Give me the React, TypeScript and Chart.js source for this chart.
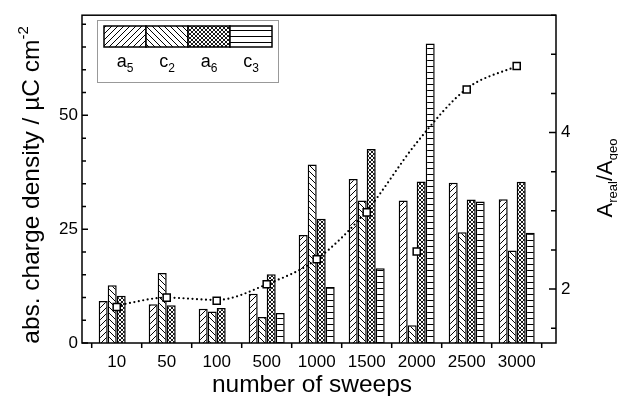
import React, { useEffect, useRef } from "react";
import { Chart, registerables } from "chart.js";

Chart.register(...registerables);

// ---------- data ----------
const categories = ["10", "50", "100", "500", "1000", "1500", "2000", "2500", "3000"];
const a5 = [9.2, 8.5, 7.5, 10.8, 23.7, 36.0, 31.3, 35.2, 31.6];
const c2 = [12.7, 15.4, 6.9, 5.7, 39.2, 31.3, 3.9, 24.3, 20.3];
const a6 = [10.4, 8.3, 7.7, 15.1, 27.3, 42.6, 35.5, 31.5, 35.4];
const c3 = [null, null, null, 6.6, 12.3, 16.4, 65.8, 31.1, 24.2];
const ratio = [1.77, 1.89, 1.85, 2.06, 2.38, 2.98, 2.48, 4.55, 4.85];
const ratioFit = [1.79, 1.89, 1.86, 2.06, 2.38, 3.0, 3.87, 4.56, 4.85];
const leftTicks = [0, 25, 50];
const rightTicks = [2, 4];
const seriesBase = ["a", "c", "a", "c"];
const seriesSub = ["5", "2", "6", "3"];

const FONT = "'Liberation Sans', Arial, Helvetica, sans-serif";

function makePattern(kind: string): CanvasPattern | string {
  const s = kind === "cross" ? 4 : 6;
  const c = document.createElement("canvas");
  c.width = s;
  c.height = s;
  const g = c.getContext("2d");
  if (!g) return "#fff";
  g.fillStyle = "#fff";
  g.fillRect(0, 0, s, s);
  g.strokeStyle = "#000";
  g.lineWidth = kind === "cross" ? 0.9 : 1;
  g.beginPath();
  if (kind === "fwd" || kind === "cross") {
    g.moveTo(-1, s + 1); g.lineTo(s + 1, -1);
    g.moveTo(-1, 1); g.lineTo(1, -1);
    g.moveTo(s - 1, s + 1); g.lineTo(s + 1, s - 1);
  }
  if (kind === "back" || kind === "cross") {
    g.moveTo(-1, -1); g.lineTo(s + 1, s + 1);
    g.moveTo(s - 1, -1); g.lineTo(s + 1, 1);
    g.moveTo(-1, s - 1); g.lineTo(1, s + 1);
  }
  if (kind === "horiz") {
    g.moveTo(0, 0.5); g.lineTo(s, 0.5);
  }
  g.stroke();
  return g.createPattern(c, "repeat") || "#fff";
}

type Part = { t: string; size: number; dy: number };

function drawParts(ctx: CanvasRenderingContext2D, parts: Part[], cx: number, baseY: number) {
  let w = 0;
  for (const p of parts) {
    ctx.font = `${p.size}px ${FONT}`;
    w += ctx.measureText(p.t).width;
  }
  let x = cx - w / 2;
  ctx.textAlign = "left";
  ctx.textBaseline = "alphabetic";
  for (const p of parts) {
    ctx.font = `${p.size}px ${FONT}`;
    ctx.fillText(p.t, x, baseY + p.dy);
    x += ctx.measureText(p.t).width;
  }
}

export default function App() {
  const ref = useRef<HTMLCanvasElement | null>(null);

  useEffect(() => {
    const canvas = ref.current;
    if (!canvas) return;
    const patterns = [makePattern("fwd"), makePattern("back"), makePattern("cross"), makePattern("horiz")];

    const decor = {
      id: "decor",
      afterDraw(chart: any) {
        const ctx: CanvasRenderingContext2D = chart.ctx;
        const { left, right, top, bottom } = chart.chartArea;
        const xs = chart.scales.x;
        const ys = chart.scales.y;
        const ys1 = chart.scales.y1;
        ctx.save();
        ctx.strokeStyle = "#000";
        ctx.lineWidth = 1.5;
        ctx.strokeRect(left, top, right - left, bottom - top);
        ctx.beginPath();
        for (let i = -0.5; i <= categories.length - 0.5; i += 1) {
          const px = xs.getPixelForValue(i);
          ctx.moveTo(px, bottom);
          ctx.lineTo(px, bottom + 5);
        }
        for (let v = 0; v <= ys.max; v += 5) {
          const py = ys.getPixelForValue(v);
          const len = v % 25 === 0 ? 6 : 4;
          ctx.moveTo(left, py);
          ctx.lineTo(left + len, py);
        }
        for (let v = 1.5; v <= ys1.max; v += 0.5) {
          const py = ys1.getPixelForValue(v);
          const len = v % 2 === 0 ? 7 : 5;
          ctx.moveTo(right, py);
          ctx.lineTo(right - len, py);
        }
        ctx.stroke();

        // legend
        const lx = 97, ly = 20, lw = 181, lh = 62;
        ctx.lineWidth = 1;
        ctx.strokeStyle = "#999";
        ctx.strokeRect(lx + 0.5, ly + 0.5, lw, lh);
        const bw = 42, bh = 21, bx0 = 104, by = 26;
        for (let k = 0; k < 4; k++) {
          const bx = bx0 + k * bw;
          ctx.fillStyle = patterns[k] as any;
          ctx.fillRect(bx, by, bw, bh);
          ctx.strokeStyle = "#000";
          ctx.lineWidth = 1.5;
          ctx.strokeRect(bx, by, bw, bh);
          ctx.fillStyle = "#000";
          drawParts(ctx, [
            { t: seriesBase[k], size: 18, dy: 0 },
            { t: seriesSub[k], size: 12, dy: 5 },
          ], bx + bw / 2, 67);
        }

        ctx.fillStyle = "#000";
        // x title
        drawParts(ctx, [{ t: "number of sweeps", size: 24.5, dy: 0 }], 312, 392);

        // left title
        ctx.save();
        ctx.translate(39, 185);
        ctx.rotate(-Math.PI / 2);
        drawParts(ctx, [
          { t: "abs. charge density / µC cm", size: 24.5, dy: 0 },
          { t: "-2", size: 15, dy: -11 },
        ], 0, 0);
        ctx.restore();

        // right title
        ctx.save();
        ctx.translate(612, 178);
        ctx.rotate(-Math.PI / 2);
        drawParts(ctx, [
          { t: "A", size: 22, dy: 0 },
          { t: "real", size: 13, dy: 5 },
          { t: "/A", size: 22, dy: 0 },
          { t: "geo", size: 13, dy: 5 },
        ], 0, 0);
        ctx.restore();
        ctx.restore();
      },
    };

    const series = [a5, c2, a6, c3];
    const barSets = series.map((arr, k) => ({
      type: "bar" as const,
      label: seriesBase[k] + seriesSub[k],
      data: arr.map((v, i) => ({ x: i, y: v })),
      backgroundColor: patterns[k] as any,
      borderColor: "#000",
      borderWidth: 1.5,
      yAxisID: "y",
      order: 2,
    }));

    const tickFont = { family: FONT, size: 17 };

    const chart = new Chart(canvas, {
      type: "bar",
      data: {
        datasets: [
          {
            type: "line",
            label: "ratio",
            data: ratio.map((v, i) => ({ x: i, y: v })),
            yAxisID: "y1",
            showLine: false,
            pointStyle: "rect",
            pointRadius: 5,
            pointBackgroundColor: "#fff",
            pointBorderColor: "#000",
            pointBorderWidth: 1.5,
            order: 0,
          } as any,
          {
            type: "line",
            label: "fit",
            data: ratioFit.map((v, i) => ({ x: i, y: v })),
            yAxisID: "y1",
            borderColor: "#000",
            borderWidth: 2.2,
            borderDash: [0, 4.5],
            borderCapStyle: "round",
            pointRadius: 0,
            cubicInterpolationMode: "monotone",
            fill: false,
            order: 1,
          } as any,
          ...barSets,
        ],
      },
      options: {
        responsive: false,
        animation: false,
        layout: { padding: { top: 14, left: 0, right: 0, bottom: 0 } },
        plugins: {
          legend: { display: false },
          tooltip: { enabled: false },
          title: { display: false },
        },
        datasets: { bar: { categoryPercentage: 0.72, barPercentage: 1 } } as any,
        scales: {
          x: {
            type: "linear",
            offset: false,
            min: -0.694,
            max: 8.786,
            grid: { display: false, drawTicks: false, offset: false },
            border: { display: false },
            afterBuildTicks: (s: any) => {
              s.ticks = categories.map((_, i) => ({ value: i }));
            },
            afterFit: (s: any) => {
              s.height = 53;
            },
            ticks: {
              callback: (v: any) => categories[v] ?? "",
              font: tickFont,
              color: "#000",
              padding: 9,
              maxRotation: 0,
              autoSkip: false,
            },
          },
          y: {
            type: "linear",
            position: "left",
            min: 0,
            max: 72,
            grid: { display: false, drawTicks: false },
            border: { display: false },
            afterBuildTicks: (s: any) => {
              s.ticks = leftTicks.map((v) => ({ value: v }));
            },
            afterFit: (s: any) => {
              s.width = 82;
            },
            ticks: { font: tickFont, color: "#000", padding: 4 },
          },
          y1: {
            type: "linear",
            position: "right",
            min: 1.31,
            max: 5.5,
            grid: { display: false, drawTicks: false },
            border: { display: false },
            afterBuildTicks: (s: any) => {
              s.ticks = rightTicks.map((v) => ({ value: v }));
            },
            afterFit: (s: any) => {
              s.width = 62;
            },
            ticks: { font: tickFont, color: "#000", padding: 5 },
          },
        },
      } as any,
      plugins: [decor],
    });

    return () => {
      chart.destroy();
    };
  }, []);

  return (
    <canvas
      ref={ref}
      width={618}
      height={396}
      style={{ position: "absolute", left: 0, top: 0, display: "block", width: 618, height: 396 }}
    />
  );
}
